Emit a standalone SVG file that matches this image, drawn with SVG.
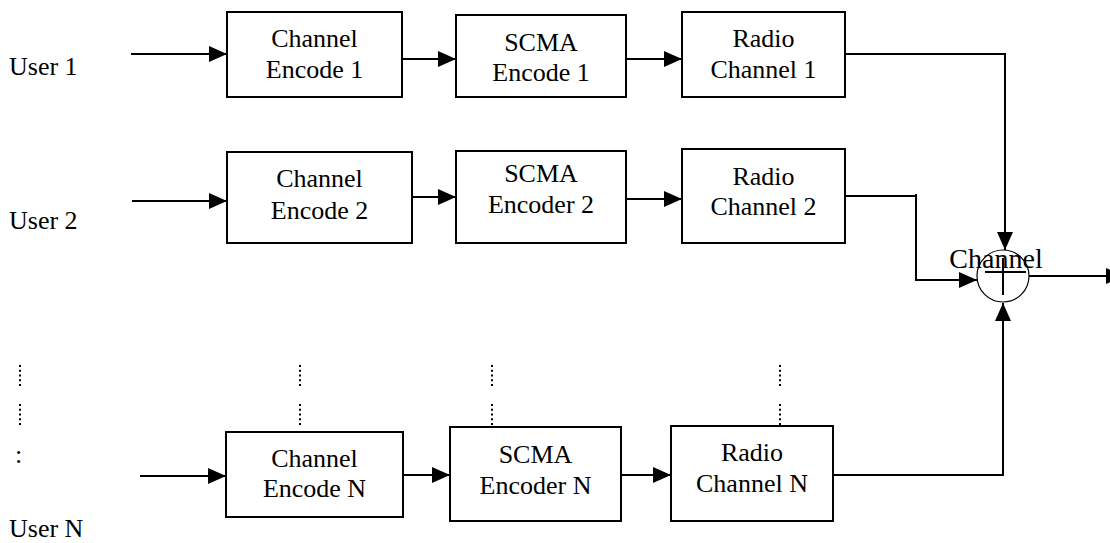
<svg xmlns="http://www.w3.org/2000/svg" width="1110" height="543" viewBox="0 0 1110 543">
<defs>
<marker id="ah" markerUnits="userSpaceOnUse" markerWidth="19" markerHeight="16" refX="18" refY="8" orient="auto">
<path d="M0,0 L18,8 L0,16 z" fill="#000"/>
</marker>
<style>
text{font-family:"Liberation Serif","DejaVu Serif","Noto Serif","Times New Roman",serif;font-size:26px;fill:#000}
.c{text-anchor:middle}
.box{fill:#fff;stroke:#000;stroke-width:2}
.ln{fill:none;stroke:#000;stroke-width:2}
.ar{fill:none;stroke:#000;stroke-width:2;marker-end:url(#ah)}
.dot{fill:none;stroke:#000;stroke-width:2;stroke-dasharray:2 2.75}
</style>
</defs>
<rect width="1110" height="543" fill="#fff"/>
<g id="labels">
<text x="9" y="75">User 1</text>
<text x="9" y="229">User 2</text>
<text x="9" y="537">User N</text>
<text x="15" y="463">:</text>
</g>
<g id="dots">
<line class="dot" x1="20" y1="365" x2="20" y2="386"/>
<line class="dot" x1="20" y1="404" x2="20" y2="425"/>
<line class="dot" x1="300" y1="365" x2="300" y2="386"/>
<line class="dot" x1="300" y1="404" x2="300" y2="425"/>
<line class="dot" x1="492" y1="365" x2="492" y2="386"/>
<line class="dot" x1="492" y1="404" x2="492" y2="425"/>
<line class="dot" x1="780" y1="365" x2="780" y2="386"/>
<line class="dot" x1="780" y1="404" x2="780" y2="425"/>
</g>
<g id="ce1"><rect class="box" x="227" y="12" width="175" height="85"/><text class="c" x="314.5" y="47">Channel</text><text class="c" x="314.5" y="78">Encode 1</text></g>
<g id="se1"><rect class="box" x="456" y="15" width="170" height="82"/><text class="c" x="541" y="51">SCMA</text><text class="c" x="541" y="81">Encode 1</text></g>
<g id="rc1"><rect class="box" x="682" y="12" width="163" height="85"/><text class="c" x="763.5" y="47">Radio</text><text class="c" x="763.5" y="78">Channel 1</text></g>
<g id="ce2"><rect class="box" x="227" y="152" width="185" height="91"/><text class="c" x="319.5" y="187">Channel</text><text class="c" x="319.5" y="219">Encode 2</text></g>
<g id="se2"><rect class="box" x="456" y="151" width="170" height="92"/><text class="c" x="541" y="182">SCMA</text><text class="c" x="541" y="213">Encoder 2</text></g>
<g id="rc2"><rect class="box" x="682" y="149" width="163" height="94"/><text class="c" x="763.5" y="185">Radio</text><text class="c" x="763.5" y="215">Channel 2</text></g>
<g id="ceN"><rect class="box" x="226" y="432" width="177" height="85"/><text class="c" x="314.5" y="467">Channel</text><text class="c" x="314.5" y="497">Encode N</text></g>
<g id="seN"><rect class="box" x="450" y="427" width="171" height="94"/><text class="c" x="535.5" y="463">SCMA</text><text class="c" x="535.5" y="494">Encoder N</text></g>
<g id="rcN"><rect class="box" x="671" y="426" width="162" height="95"/><text class="c" x="752" y="461">Radio</text><text class="c" x="752" y="492">Channel N</text></g>
<g id="sum">
<circle cx="1003" cy="276" r="26" fill="none" stroke="#000" stroke-width="1.2"/>
<line x1="985" y1="272" x2="1026" y2="272" stroke="#000" stroke-width="2"/>
<line x1="1003" y1="258" x2="1003" y2="295" stroke="#000" stroke-width="2"/>
<text class="c" x="996" y="268" style="font-size:28px">Channel</text>
</g>
<g id="connectors">
<line class="ar" x1="131" y1="54" x2="227" y2="54"/>
<line class="ar" x1="402" y1="59" x2="456" y2="59"/>
<line class="ar" x1="626" y1="59" x2="682" y2="59"/>
<polyline class="ar" points="845,54 1005,54 1005,250"/>
<line class="ar" x1="132" y1="201" x2="227" y2="201"/>
<line class="ar" x1="412" y1="197" x2="456" y2="197"/>
<line class="ar" x1="627" y1="199" x2="682" y2="199"/>
<polyline class="ln" points="845,196 916,196"/>
<polyline class="ar" points="916,194 916,280 977,280"/>
<line class="ar" x1="140" y1="476" x2="226" y2="476"/>
<line class="ar" x1="403" y1="475" x2="450" y2="475"/>
<line class="ar" x1="621" y1="475" x2="671" y2="475"/>
<polyline class="ar" points="833,475 1003,475 1003,303"/>
<line class="ar" x1="1029" y1="276" x2="1124" y2="276"/>
</g>
</svg>
